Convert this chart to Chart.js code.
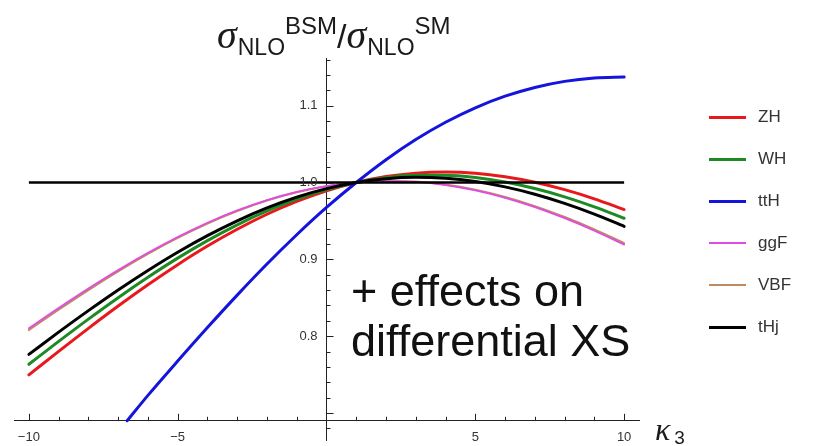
<!DOCTYPE html>
<html>
<head>
<meta charset="utf-8">
<script src="https://cdn.jsdelivr.net/npm/chart.js@4"></script>
<style>
  body { margin: 0; background: #fff; }
  #wrap { position: relative; width: 815px; height: 446px; }
  #wrap canvas { position: absolute; left: 0; top: 0; }
  .txt { position: absolute; white-space: nowrap; color: #1a1a1a; font-family: 'Liberation Sans', Arial, sans-serif; }
  .sig { font: italic 40px 'Liberation Serif', serif; }
  .lo { font-size: 23px; position: relative; top: 7px; margin-left: 1px; }
  .hi { font-size: 24px; position: relative; top: -14px; }
  #note { left: 351px; top: 266px; font-size: 45px; line-height: 50px; color: #111; }
  #kappa { left: 655px; top: 411px; }
  #kappa .k { font: italic 32px 'Liberation Serif', serif; }
  #kappa .s { font-size: 19px; position: relative; top: 4px; margin-left: 4px; }
  .leg { position: absolute; left: 709px; height: 20px; display: flex; align-items: center; }
  .leg i { display: block; width: 37px; margin-right: 12px; }
  .leg span { font: 17px 'Liberation Sans', Arial, sans-serif; color: #333; }
</style>
</head>
<body>
<div id="wrap">
  <canvas id="chart" width="815" height="446"></canvas>
  <div class="txt" style="left:217px; top:11px; font-size:34px;"><span class="sig">σ</span><span class="lo">NLO</span><span class="hi">BSM</span>/<span class="sig">σ</span><span class="lo">NLO</span><span class="hi">SM</span></div>
  <div class="txt" id="note">+ effects on<br>differential XS</div>
  <div class="txt" id="kappa"><span class="k">κ</span><span class="s">3</span></div>
  <div id="legend"></div>
</div>
<script>
// kappa_3 grid and the NLO ratio for each production mode
const kappa = [-10, -9, -8, -7, -6, -5, -4, -3, -2, -1, 0, 1, 2, 3, 4, 5, 6, 7, 8, 9, 10];
const zhVals  = [0.7497, 0.7803, 0.8103, 0.8393, 0.8670, 0.8931, 0.9173, 0.9392, 0.9587, 0.9754, 0.9892, 1.0, 1.0077, 1.0122, 1.0136, 1.0120, 1.0075, 1.0004, 0.9907, 0.9788, 0.9648];
const whVals  = [0.7635, 0.7933, 0.8223, 0.8502, 0.8767, 0.9016, 0.9244, 0.9450, 0.9630, 0.9783, 0.9907, 1.0, 1.0062, 1.0093, 1.0093, 1.0064, 1.0006, 0.9922, 0.9814, 0.9684, 0.9535];
const ggfVals = [0.8104, 0.8367, 0.8620, 0.8861, 0.9086, 0.9292, 0.9477, 0.9637, 0.9772, 0.9878, 0.9954, 1.0, 1.0019, 1.0008, 0.9967, 0.9897, 0.9801, 0.9680, 0.9536, 0.9373, 0.9192];
const vbfVals = [0.8080, 0.8345, 0.8600, 0.8843, 0.9071, 0.9279, 0.9466, 0.9628, 0.9765, 0.9874, 0.9952, 1.0, 1.0021, 1.0012, 0.9974, 0.9906, 0.9812, 0.9693, 0.9551, 0.9391, 0.9212];
const thjVals = [0.7764, 0.8053, 0.8333, 0.8602, 0.8856, 0.9093, 0.9309, 0.9502, 0.9670, 0.9810, 0.9920, 1.0, 1.0049, 1.0067, 1.0054, 1.0012, 0.9943, 0.9847, 0.9728, 0.9588, 0.9430];
// ttH leaves the plot range at the bottom, so it starts later
const tthKappa = [-6.7, -6, -5, -4, -3, -2, -1, 0, 1, 2, 3, 4, 5, 6, 7, 8, 9, 10];
const tthVals  = [0.690, 0.7231, 0.7677, 0.8113, 0.8535, 0.8939, 0.9320, 0.9675, 1.0, 1.0297, 1.0559, 1.0784, 1.0972, 1.1123, 1.1237, 1.1316, 1.1360, 1.1372];
// SM reference line
const smKappa = [-10, 10];
const smVals  = [1.0, 1.0];

const seriesNames  = ['ZH', 'WH', 'ttH', 'ggF', 'VBF', 'tHj'];
const seriesColors = ['#e8191c', '#1e8a23', '#1414dc', '#e04ce0', '#bd8a62', '#000000'];
const seriesWidths = [3, 3, 3, 1.8, 2, 3];

const xLabelTicks = [-10, -5, 5, 10];
const yLabelTicks = [0.8, 0.9, 1.0, 1.1];
const X_AXIS_AT = 0.69;

const pts = (xs, ys) => xs.map((x, i) => ({ x, y: ys[i] }));

function curve(idx, xs, ys, order) {
    return {
        label: seriesNames[idx],
        data: pts(xs, ys),
        borderColor: seriesColors[idx],
        borderWidth: seriesWidths[idx],
        pointRadius: 0,
        cubicInterpolationMode: 'monotone',
        borderCapStyle: 'round',
        order
    };
}

const tickFont = { family: "'Liberation Sans', Arial, sans-serif", size: 13 };

// inner tick marks, Mathematica style (long at labelled values, short in between),
// plus the y labels which sit left of the axis
const axisTicks = {
    id: 'axisTicks',
    afterDraw(chart) {
        const { ctx, scales: { x, y } } = chart;
        const xAxisPx = y.getPixelForValue(X_AXIS_AT);
        const yAxisPx = x.getPixelForValue(0);
        ctx.save();
        ctx.strokeStyle = '#222';
        ctx.lineWidth = 1;
        ctx.beginPath();
        for (let k = -10; k <= 10; k++) {
            if (k === 0) continue;
            const px = Math.round(x.getPixelForValue(k)) + 0.5;
            const len = k % 5 === 0 ? 7 : 4;
            ctx.moveTo(px, xAxisPx);
            ctx.lineTo(px, xAxisPx - len);
        }
        for (let i = 34; i <= 58; i++) {
            const py = Math.round(y.getPixelForValue(i / 50)) + 0.5;
            const len = i % 5 === 0 ? 7 : 4;
            ctx.moveTo(yAxisPx, py);
            ctx.lineTo(yAxisPx + len, py);
        }
        ctx.stroke();

        ctx.fillStyle = '#333';
        ctx.font = `${tickFont.size}px ${tickFont.family}`;
        ctx.textAlign = 'right';
        ctx.textBaseline = 'middle';
        yLabelTicks.forEach(v => ctx.fillText(v.toFixed(1), yAxisPx - 9, y.getPixelForValue(v)));
        ctx.restore();
    }
};

const noPad = s => { s.paddingTop = 0; s.paddingBottom = 0; s.paddingLeft = 0; s.paddingRight = 0; };

new Chart(document.getElementById('chart'), {
    type: 'line',
    data: {
        datasets: [
            { label: 'SM', data: pts(smKappa, smVals), borderColor: '#000', borderWidth: 2.5, pointRadius: 0, order: 0 },
            curve(5, kappa, thjVals, 1),
            curve(3, kappa, ggfVals, 2),
            curve(4, kappa, vbfVals, 3),
            curve(2, tthKappa, tthVals, 4),
            curve(1, kappa, whVals, 5),
            curve(0, kappa, zhVals, 6)
        ]
    },
    options: {
        responsive: false,
        animation: false,
        layout: { padding: { left: 14, right: 176, top: 58, bottom: 6 } },
        plugins: { legend: { display: false }, tooltip: { enabled: false } },
        scales: {
            x: {
                type: 'linear',
                min: -10.5,
                max: 10.5,
                position: { y: X_AXIS_AT },
                afterBuildTicks: s => { s.ticks = xLabelTicks.map(v => ({ value: v })); },
                afterFit: noPad,
                grid: { display: true, drawOnChartArea: false, drawTicks: false },
                border: { display: true, color: '#222', width: 1 },
                ticks: {
                    font: tickFont,
                    color: '#333',
                    padding: 9,
                    maxRotation: 0,
                    callback: v => (v < 0 ? '\u2212' + Math.abs(v) : String(v))
                }
            },
            y: {
                type: 'linear',
                min: 0.665,
                max: 1.162,
                position: { x: 0 },
                afterBuildTicks: s => { s.ticks = yLabelTicks.map(v => ({ value: v })); },
                afterFit: noPad,
                grid: { display: true, drawOnChartArea: false, drawTicks: false },
                border: { display: true, color: '#222', width: 1 },
                ticks: { display: false }
            }
        }
    },
    plugins: [axisTicks]
});

// legend column on the right
const legendTop = [107, 149, 191, 233, 275, 317];
document.getElementById('legend').innerHTML = seriesNames.map((n, i) =>
    `<div class="leg" style="top:${legendTop[i]}px"><i style="height:${seriesWidths[i]}px;background:${seriesColors[i]}"></i><span>${n}</span></div>`
).join('');
</script>
</body>
</html>
